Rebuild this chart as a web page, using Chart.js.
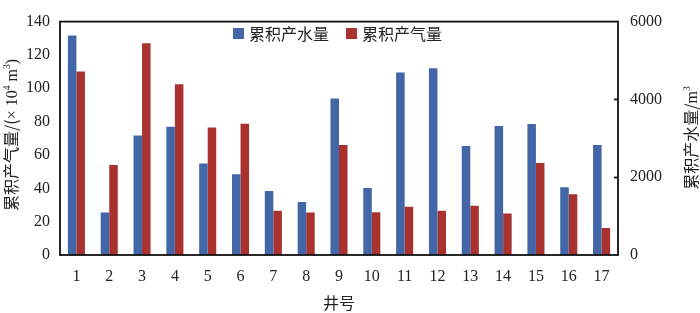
<!DOCTYPE html>
<html>
<head>
<meta charset="utf-8">
<script src="https://cdn.jsdelivr.net/npm/chart.js@4.4.0/dist/chart.umd.min.js"></script>
<style>
  html, body { margin: 0; padding: 0; background: #fff; }
  #wrap { width: 700px; height: 313px; font-family: "Liberation Serif", serif; }
</style>
</head>
<body>
<div id="wrap"><canvas id="chart" width="700" height="313"></canvas></div>
<script>
/* data */
const wells = ["1", "2", "3", "4", "5", "6", "7", "8", "9", "10", "11", "12", "13", "14", "15", "16", "17"];
const waterVolume = [5640, 1095, 3070, 3300, 2350, 2075, 1648, 1365, 4020, 1720, 4690, 4800, 2800, 3318, 3366, 1740, 2825]; // m3, right axis
const gasVolume = [110, 54, 127, 102.4, 76.5, 78.8, 26.6, 25.5, 66, 25.7, 28.9, 26.6, 29.6, 24.9, 55.2, 36.5, 16.2]; // 10^4 m3, left axis

const colors = {
    water: "#4266a8",
    gas: "#a9322f",
};

const serif = "Liberation Serif, serif";
const cjk = "Noto Sans CJK SC, sans-serif";

/* draws text with superscript parts, baseline-left at (x, y) */
function richText(ctx, parts, x, y, size) {
    let cx = x;
    parts.forEach(p => {
        const s = p.sup ? size * 0.6 : size;
        ctx.font = s + "px " + (p.cjk ? cjk : serif);
        ctx.fillText(p.t, cx, p.sup ? y - size * 0.45 : y);
        cx += ctx.measureText(p.t).width;
    });
    return cx - x;
}
function richWidth(ctx, parts, size) {
    let w = 0;
    parts.forEach(p => {
        const s = p.sup ? size * 0.6 : size;
        ctx.font = s + "px " + (p.cjk ? cjk : serif);
        w += ctx.measureText(p.t).width;
    });
    return w;
}

const leftTitle = [
    { t: "累积产气量/(", cjk: true }, { t: "× 10" }, { t: "4", sup: true }, { t: " m" }, { t: "3", sup: true }, { t: ")" }
];
const rightTitle = [
    { t: "累积产水量/", cjk: true }, { t: "m" }, { t: "3", sup: true }
];

const decor = {
    id: "decor",
    afterDraw(chart) {
        const ctx = chart.ctx;
        const a = chart.chartArea;
        ctx.save();
        // frame
        ctx.strokeStyle = "#111";
        ctx.lineWidth = 1.8;
        ctx.strokeRect(a.left, a.top, a.right - a.left, a.bottom - a.top);
        // inward ticks on the right axis
        const yR = chart.scales.yR;
        [2000, 4000].forEach(v => {
            const py = Math.round(yR.getPixelForValue(v)) + 0.5;
            ctx.beginPath();
            ctx.moveTo(a.right - 4, py);
            ctx.lineTo(a.right, py);
            ctx.stroke();
        });
        ctx.fillStyle = "#222";
        ctx.textBaseline = "alphabetic";
        // axis titles
        const size = 16;
        let w = richWidth(ctx, leftTitle, size);
        ctx.save();
        ctx.translate(17, 135);
        ctx.rotate(-Math.PI / 2);
        richText(ctx, leftTitle, -w / 2, 0, size);
        ctx.restore();
        w = richWidth(ctx, rightTitle, size);
        ctx.save();
        ctx.translate(697, 138);
        ctx.rotate(-Math.PI / 2);
        richText(ctx, rightTitle, -w / 2, 0, size);
        ctx.restore();
        ctx.font = "16px " + cjk;
        ctx.textAlign = "center";
        ctx.fillText("井号", 339, 309);
        // legend
        ctx.textAlign = "left";
        ctx.font = "16px " + cjk;
        ctx.fillStyle = colors.water;
        ctx.fillRect(233, 28, 11, 11);
        ctx.fillStyle = colors.gas;
        ctx.fillRect(346, 28, 11, 11);
        ctx.fillStyle = "#222";
        ctx.textBaseline = "middle";
        ctx.fillText(chart.data.datasets[0].label, 249, 34);
        ctx.fillText(chart.data.datasets[1].label, 362, 34);
        ctx.restore();
    }
};

function draw() {
    const ctx = document.getElementById("chart");
    new Chart(ctx, {
        type: "bar",
        data: {
            labels: wells,
            datasets: [
                {
                    label: "累积产水量",
                    data: waterVolume,
                    yAxisID: "yR",
                    backgroundColor: colors.water,
                    categoryPercentage: 0.52,
                    barPercentage: 1,
                },
                {
                    label: "累积产气量",
                    data: gasVolume,
                    yAxisID: "y",
                    backgroundColor: colors.gas,
                    categoryPercentage: 0.52,
                    barPercentage: 1,
                },
            ],
        },
        options: {
            responsive: false,
            animation: false,
            layout: { padding: { top: 8, left: 0, right: 0, bottom: 0 } },
            plugins: {
                legend: { display: false },
                tooltip: { enabled: false },
            },
            scales: {
                x: {
                    grid: { display: false, drawTicks: false },
                    border: { display: false },
                    ticks: { color: "#222", font: { family: serif, size: 16 }, padding: 12, maxRotation: 0 },
                    afterFit: (s) => { s.height = 58; },
                },
                y: {
                    position: "left",
                    min: 0,
                    max: 140,
                    grid: { display: false, drawTicks: false },
                    border: { display: false },
                    ticks: { stepSize: 20, color: "#222", font: { family: serif, size: 16 }, padding: 10 },
                    afterFit: (s) => { s.width = 60; },
                },
                yR: {
                    position: "right",
                    min: 0,
                    max: 6000,
                    grid: { display: false, drawTicks: false },
                    border: { display: false },
                    ticks: {
                        stepSize: 2000,
                        color: "#222",
                        font: { family: serif, size: 16 },
                        padding: 12,
                        callback: (v) => String(v),
                    },
                    afterFit: (s) => { s.width = 82; },
                },
            },
        },
        plugins: [decor],
    });
}

if (document.fonts && document.fonts.load) {
    Promise.all([
        document.fonts.load("16px Liberation Serif"),
        document.fonts.load("16px Noto Sans CJK SC", "累积产水量"),
    ]).then(draw, draw);
} else {
    draw();
}
</script>
</body>
</html>
